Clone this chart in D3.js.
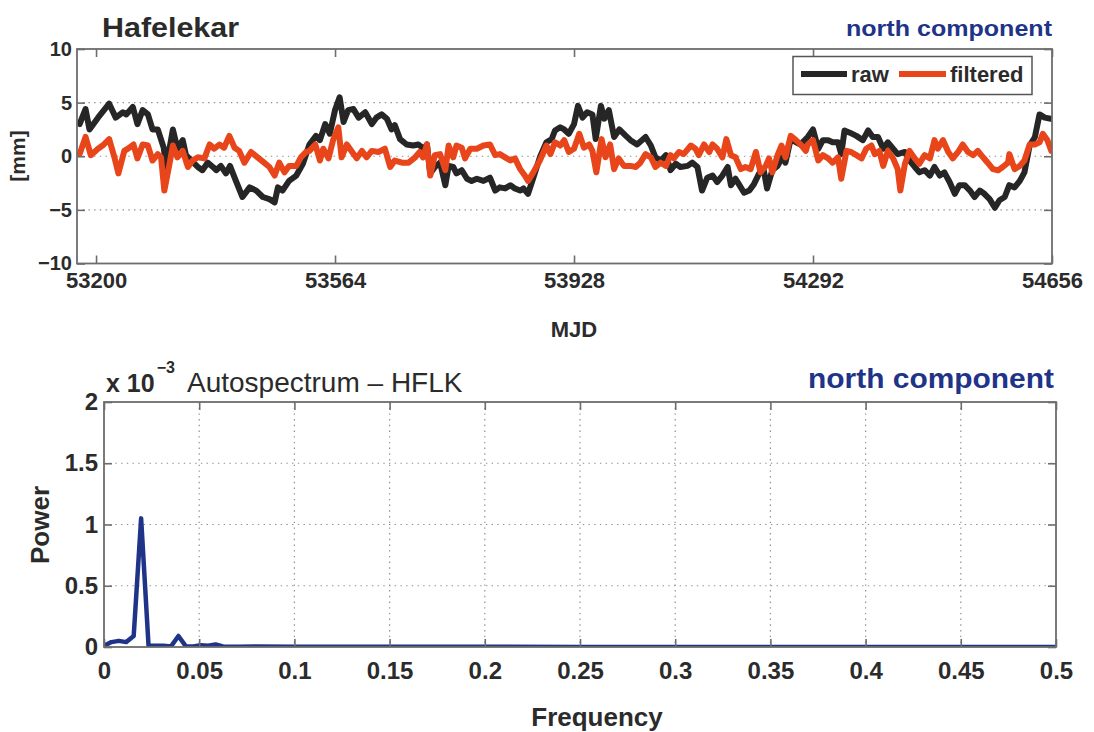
<!DOCTYPE html>
<html>
<head>
<meta charset="utf-8">
<script src="https://cdn.jsdelivr.net/npm/d3@7"></script>
<style>
  body { margin: 0; background: #fff; }
  svg { display: block; }
</style>
</head>
<body>
<svg id="fig" width="1094" height="732"></svg>
<script>
// ---- Station time series, north component (MJD, mm) ----
const mjdTicks = [53200, 53564, 53928, 54292, 54656];
const mmTicks = [-10, -5, 0, 5, 10];
const mmGrid = [-5, 0, 5];

const rawSeries = [
  [53175,3.0],[53184,4.4],[53190,2.5],[53203,3.6],[53220,4.9],[53230,3.6],[53241,4.1],[53246,3.9],
  [53256,4.6],[53263,3.0],[53271,4.3],[53279,3.9],[53286,2.5],[53294,2.5],[53303,0.8],[53307,-1.0],
  [53317,2.5],[53324,0.7],[53332,1.5],[53337,0.1],[53345,-0.4],[53355,-1.0],[53362,-1.3],[53370,-0.6],
  [53378,-1.0],[53383,-1.3],[53390,-0.9],[53398,-1.6],[53404,-0.9],[53413,-2.3],[53423,-3.8],[53434,-2.9],
  [53444,-3.2],[53454,-3.8],[53464,-4.0],[53472,-4.3],[53477,-2.9],[53484,-3.2],[53494,-2.3],[53505,-1.8],
  [53515,-0.7],[53525,1.1],[53535,1.9],[53541,1.5],[53549,3.0],[53556,2.1],[53564,4.3],[53571,5.5],
  [53577,3.2],[53584,4.3],[53592,4.4],[53600,3.6],[53610,4.1],[53620,3.0],[53627,3.6],[53635,3.9],
  [53643,3.5],[53650,2.5],[53655,2.9],[53663,1.6],[53673,1.1],[53683,1.0],[53691,1.1],[53699,0.7],
  [53704,1.1],[53709,-1.6],[53716,-1.0],[53724,-0.6],[53732,-2.7],[53737,-0.9],[53744,-1.0],[53749,-1.6],
  [53757,-1.3],[53765,-2.1],[53772,-2.3],[53780,-2.1],[53790,-2.3],[53800,-2.0],[53808,-3.2],[53815,-2.9],
  [53823,-3.0],[53831,-2.7],[53838,-3.0],[53846,-3.2],[53851,-3.0],[53858,-3.5],[53866,-2.0],[53876,-0.1],
  [53886,1.3],[53894,1.6],[53899,2.4],[53907,2.7],[53913,2.5],[53920,2.1],[53928,3.0],[53934,4.7],
  [53941,3.6],[53948,4.1],[53956,3.9],[53961,1.6],[53969,4.7],[53974,3.5],[53981,4.3],[53989,1.8],
  [53997,2.5],[54007,1.9],[54014,1.5],[54024,1.1],[54037,1.8],[54045,1.0],[54052,-0.1],[54060,-0.4],
  [54068,0.1],[54075,-1.3],[54083,-0.7],[54090,-1.0],[54101,-0.9],[54108,-0.6],[54116,-1.0],[54123,-3.2],
  [54131,-2.0],[54139,-1.8],[54146,-2.4],[54154,-1.8],[54162,-1.0],[54167,-2.7],[54174,-2.1],[54179,-2.6],
  [54187,-3.4],[54195,-3.2],[54202,-2.6],[54210,-1.6],[54217,-1.3],[54222,-3.0],[54230,-1.3],[54238,-0.9],
  [54245,-0.1],[54250,-0.6],[54258,1.6],[54266,1.3],[54273,1.1],[54281,1.6],[54284,1.8],[54292,2.5],
  [54300,0.7],[54307,1.5],[54315,1.5],[54322,1.3],[54330,1.3],[54335,0.2],[54340,2.4],[54348,2.2],
  [54358,1.9],[54368,1.5],[54376,2.4],[54383,1.8],[54391,1.8],[54399,0.7],[54406,1.3],[54414,0.7],
  [54421,0.2],[54432,0.4],[54439,-0.4],[54447,-1.0],[54454,-1.5],[54462,-1.3],[54470,-1.8],[54477,-1.0],
  [54485,-1.8],[54492,-1.5],[54500,-2.4],[54508,-3.5],[54515,-2.7],[54523,-2.7],[54531,-3.2],[54538,-3.8],
  [54546,-3.2],[54553,-3.5],[54561,-4.0],[54569,-4.8],[54576,-4.1],[54584,-3.8],[54591,-2.7],[54599,-2.9],
  [54607,-2.3],[54614,-1.5],[54622,1.0],[54630,1.8],[54637,3.9],[54645,3.6],[54654,3.5]
];

const filteredSeries = [
  [53175,0.2],[53184,1.8],[53192,0.1],[53203,0.7],[53210,1.0],[53220,1.6],[53228,-0.1],[53234,-1.6],
  [53243,0.5],[53251,0.8],[53257,1.1],[53263,-0.2],[53271,1.1],[53279,1.0],[53286,-0.4],[53294,0.2],
  [53299,-0.1],[53304,-3.2],[53311,-1.0],[53317,1.0],[53324,-0.1],[53332,0.5],[53340,-1.0],[53347,-0.4],
  [53355,-0.1],[53365,-0.2],[53373,1.1],[53380,0.7],[53388,1.1],[53395,0.8],[53403,1.9],[53411,0.8],
  [53418,0.5],[53426,-0.6],[53436,0.4],[53446,-0.1],[53456,-0.6],[53464,-1.0],[53472,-1.8],[53479,-0.6],
  [53487,-1.5],[53494,-0.9],[53505,-0.9],[53512,-0.1],[53520,0.4],[53525,0.5],[53534,1.1],[53541,-0.4],
  [53546,0.7],[53554,-0.2],[53561,1.5],[53569,2.7],[53574,-0.1],[53582,1.1],[53589,0.5],[53597,-0.2],
  [53605,0.5],[53612,-0.1],[53620,0.5],[53630,0.4],[53640,0.7],[53648,-1.0],[53655,-0.4],[53666,-0.6],
  [53676,-0.6],[53686,-0.1],[53693,0.4],[53698,-0.1],[53704,1.1],[53709,-1.8],[53716,0.1],[53724,0.2],
  [53732,-1.3],[53737,1.0],[53744,-0.1],[53749,1.0],[53757,0.8],[53762,-0.2],[53770,0.7],[53780,0.7],
  [53790,1.0],[53800,1.1],[53808,0.1],[53815,0.2],[53823,-0.1],[53831,-0.4],[53838,-0.2],[53846,-1.2],
  [53853,-1.8],[53858,-2.3],[53866,-1.5],[53876,-0.4],[53886,1.0],[53892,0.2],[53899,1.3],[53907,1.0],
  [53913,1.5],[53920,0.4],[53928,0.7],[53936,2.1],[53943,0.8],[53951,1.1],[53956,0.5],[53962,-1.5],
  [53970,1.6],[53976,-0.1],[53983,1.1],[53989,-1.2],[53996,-0.2],[54004,-0.9],[54014,-0.9],[54022,-1.0],
  [54029,-0.6],[54037,0.2],[54045,-0.1],[54052,-1.0],[54060,-0.6],[54068,-0.9],[54075,0.1],[54080,-0.2],
  [54088,0.4],[54095,0.2],[54106,1.0],[54113,0.7],[54118,0.1],[54126,1.1],[54134,0.4],[54139,1.1],
  [54146,0.7],[54154,-0.1],[54160,1.6],[54167,0.1],[54174,-0.1],[54182,-1.2],[54189,-1.0],[54197,-1.2],
  [54205,0.4],[54212,-1.5],[54220,-0.9],[54225,-0.2],[54230,-1.5],[54238,0.1],[54244,1.0],[54250,-0.1],
  [54258,1.9],[54266,1.5],[54273,1.1],[54281,0.5],[54284,1.1],[54292,1.5],[54300,-0.4],[54307,0.1],
  [54315,-0.2],[54322,-0.6],[54330,-0.1],[54335,-2.1],[54343,0.5],[54350,0.4],[54358,0.1],[54366,-0.2],
  [54373,0.7],[54381,1.0],[54386,0.2],[54393,0.5],[54399,-0.9],[54406,0.5],[54414,-0.2],[54421,-1.2],
  [54425,-3.2],[54432,-0.7],[54439,0.5],[54447,-0.2],[54454,-0.7],[54462,0.1],[54470,-0.2],[54477,1.5],
  [54482,0.7],[54490,1.5],[54498,0.4],[54505,-0.2],[54513,0.4],[54520,1.1],[54528,0.4],[54536,0.1],
  [54543,0.5],[54551,-0.1],[54558,-0.6],[54566,-1.2],[54574,-1.3],[54581,-1.0],[54589,-0.6],[54591,0.2],
  [54599,-1.2],[54607,-0.9],[54614,-0.4],[54622,1.1],[54630,1.1],[54637,1.3],[54642,2.1],[54649,1.5],
  [54655,0.5]
];

// ---- Autospectrum of the series (frequency, power in units of 1e-3) ----
const freqTicks = [0, 0.05, 0.1, 0.15, 0.2, 0.25, 0.3, 0.35, 0.4, 0.45, 0.5];
const powerTicks = [0, 0.5, 1, 1.5, 2];
const spectrum = [
  [0,0.01],[0.0039,0.04],[0.0078,0.05],[0.0117,0.04],[0.0156,0.09],[0.0195,1.05],[0.0234,0.01],
  [0.0273,0.01],[0.0313,0.01],[0.0352,0.005],[0.0391,0.09],[0.043,0.005],[0.0469,0.005],[0.0508,0.015],
  [0.0547,0.01],[0.0586,0.02],[0.0625,0.005],[0.07,0.003],[0.08,0.004],[0.1,0.002],[0.12,0.003],
  [0.15,0.002],[0.2,0.002],[0.25,0.001],[0.3,0.001],[0.35,0.001],[0.4,0.001],[0.45,0.001],[0.5,0.001]
];

const FONT = "'Liberation Sans', Arial, Helvetica, sans-serif";
const AXIS_COLOR = "#6d6d6d";
const TEXT_COLOR = "#2b2b2b";
const NAVY = "#1f3488";
const RAW_COLOR = "#262626";
const FILT_COLOR = "#e8461a";

const svg = d3.select("#fig");

function styleAxis(g, size) {
  g.select(".domain").remove();
  g.selectAll(".tick line").attr("stroke", AXIS_COLOR).attr("stroke-width", 1.6);
  g.selectAll(".tick text")
    .attr("fill", TEXT_COLOR)
    .attr("font-family", FONT)
    .attr("font-size", size)
    .attr("font-weight", "bold");
}

function panel(cfg) {
  const { x, y } = cfg;
  const [x0, x1] = x.range();
  const [y0, y1] = y.range(); // y0 bottom, y1 top
  const g = svg.append("g");
  const clipId = cfg.id + "-clip";
  svg.append("clipPath").attr("id", clipId)
    .append("rect").attr("x", x0).attr("y", y1).attr("width", x1 - x0).attr("height", y0 - y1);

  // dotted grid
  const grid = g.append("g").attr("stroke", "#8f8f8f").attr("stroke-width", 1.2)
    .attr("stroke-dasharray", "1.4,4.3");
  grid.selectAll("line.h").data(cfg.hGrid).join("line").attr("class", "h")
    .attr("x1", x0).attr("x2", x1).attr("y1", d => y(d)).attr("y2", d => y(d));
  grid.selectAll("line.v").data(cfg.vGrid).join("line").attr("class", "v")
    .attr("y1", y1).attr("y2", y0).attr("x1", d => x(d)).attr("x2", d => x(d));

  // data
  const plot = g.append("g").attr("clip-path", `url(#${clipId})`);
  cfg.series.forEach(s => {
    plot.append("path")
      .datum(s.data)
      .attr("fill", "none")
      .attr("stroke", s.color)
      .attr("stroke-width", s.width)
      .attr("stroke-linejoin", "round")
      .attr("stroke-linecap", "round")
      .attr("d", d3.line().x(d => x(d[0])).y(d => y(d[1])));
  });

  // axes with inward ticks on all four sides
  const tl = 8;
  g.append("g").attr("transform", `translate(0,${y0})`)
    .call(d3.axisBottom(x).tickValues(cfg.xTicks).tickFormat(cfg.xFormat)
      .tickSizeInner(-tl).tickSizeOuter(0).tickPadding(cfg.xPad))
    .call(a => styleAxis(a, cfg.xFont));
  g.append("g").attr("transform", `translate(0,${y1})`)
    .call(d3.axisTop(x).tickValues(cfg.xTicks).tickFormat("").tickSizeInner(-tl).tickSizeOuter(0))
    .call(a => styleAxis(a, cfg.xFont));
  g.append("g").attr("transform", `translate(${x0},0)`)
    .call(d3.axisLeft(y).tickValues(cfg.yTicks).tickFormat(cfg.yFormat)
      .tickSizeInner(-tl).tickSizeOuter(0).tickPadding(cfg.yPad))
    .call(a => styleAxis(a, cfg.yFont));
  g.append("g").attr("transform", `translate(${x1},0)`)
    .call(d3.axisRight(y).tickValues(cfg.yTicks).tickFormat("").tickSizeInner(-tl).tickSizeOuter(0))
    .call(a => styleAxis(a, cfg.yFont));

  // frame
  g.append("rect").attr("x", x0).attr("y", y1).attr("width", x1 - x0).attr("height", y0 - y1)
    .attr("fill", "none").attr("stroke", AXIS_COLOR).attr("stroke-width", 1.8);
  return g;
}

function label(txt, x, y, opts = {}) {
  const t = svg.append("text")
    .attr("x", x).attr("y", y)
    .attr("font-family", FONT)
    .attr("font-size", opts.size || 20)
    .attr("font-weight", opts.weight || "bold")
    .attr("fill", opts.color || TEXT_COLOR)
    .attr("text-anchor", opts.anchor || "start")
    .text(txt);
  if (opts.rotate) t.attr("transform", `rotate(${opts.rotate},${x},${y})`);
  if (opts.len) t.attr("textLength", opts.len).attr("lengthAdjust", "spacingAndGlyphs");
  return t;
}

// ---- Top panel: time series ----
const xTop = d3.scaleLinear().domain([53171, 54656]).range([77, 1052]);
const yTop = d3.scaleLinear().domain([-10, 10]).range([263.5, 49]);

panel({
  id: "ts", x: xTop, y: yTop,
  xTicks: mjdTicks, yTicks: mmTicks, hGrid: mmGrid, vGrid: [],
  xFormat: d3.format("d"), yFormat: d3.format("d"),
  xFont: 22, yFont: 20, xPad: 9, yPad: 5,
  series: [
    { data: rawSeries, color: RAW_COLOR, width: 6 },
    { data: filteredSeries, color: FILT_COLOR, width: 6 }
  ]
});

// legend
const leg = svg.append("g");
leg.append("rect").attr("x", 793).attr("y", 56.5).attr("width", 239).attr("height", 38)
  .attr("fill", "#fff").attr("stroke", "#555").attr("stroke-width", 1.5);
leg.append("line").attr("x1", 801).attr("x2", 847).attr("y1", 74).attr("y2", 74)
  .attr("stroke", RAW_COLOR).attr("stroke-width", 6);
leg.append("line").attr("x1", 899).attr("x2", 946).attr("y1", 74).attr("y2", 74)
  .attr("stroke", FILT_COLOR).attr("stroke-width", 6);
label("raw", 851, 82, { size: 22 });
label("filtered", 950, 82, { size: 22 });

label("Hafelekar", 102, 37, { size: 28, len: 137 });
label("north component", 1052, 36, { size: 22, anchor: "end", color: NAVY, len: 206 });
label("[mm]", 25, 156, { size: 21, rotate: -90, anchor: "middle" });
label("MJD", 574, 337, { size: 22, anchor: "middle" });

// ---- Bottom panel: autospectrum ----
const xBot = d3.scaleLinear().domain([0, 0.5]).range([104, 1056]);
const yBot = d3.scaleLinear().domain([0, 2]).range([647, 402]);

panel({
  id: "sp", x: xBot, y: yBot,
  xTicks: freqTicks, yTicks: powerTicks,
  hGrid: powerTicks.slice(1, -1), vGrid: freqTicks.slice(1, -1),
  xFormat: d3.format("~g"), yFormat: d3.format("~g"),
  xFont: 24, yFont: 24, xPad: 15, yPad: 6,
  series: [{ data: spectrum, color: NAVY, width: 4.5 }]
});

// scale factor and title
const ttl = svg.append("text").attr("x", 106).attr("y", 392)
  .attr("font-family", FONT).attr("fill", TEXT_COLOR);
ttl.append("tspan").attr("font-size", 25).attr("font-weight", "bold").text("x 10");
ttl.append("tspan").attr("font-size", 16).attr("font-weight", "bold").attr("dy", -19).attr("dx", 2).text("−3");
label("Autospectrum – HFLK", 187, 392, { size: 28, weight: "normal" });
label("north component", 1054, 388, { size: 27, anchor: "end", color: NAVY, len: 246 });
label("Power", 49, 525, { size: 26, rotate: -90, anchor: "middle" });
label("Frequency", 597, 726, { size: 26, anchor: "middle" });
</script>
</body>
</html>
